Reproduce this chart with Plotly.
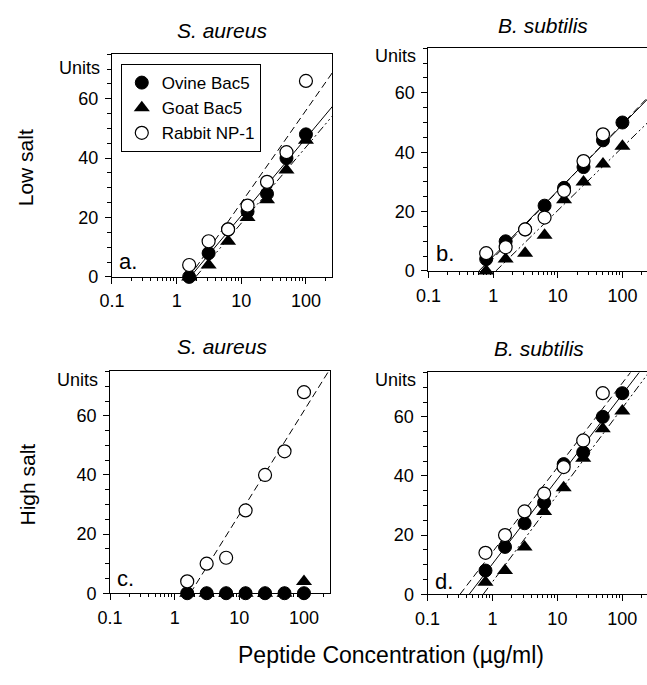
import numpy as np
import plotly.graph_objects as go

# ---------------- data ----------------
conc_7 = [1.5625, 3.125, 6.25, 12.5, 25, 50, 100]
conc_8 = [0.78125, 1.5625, 3.125, 6.25, 12.5, 25, 50, 100]

# panel a: low salt, S. aureus
ovine_a = [0, 8, 16, 22, 28, 40, 48]
goat_a = [0, 4, 12, 20, 26, 36, 46]
rabbit_a = [4, 12, 16, 24, 32, 42, 66]
# panel b: low salt, B. subtilis
ovine_b = [4, 10, 14, 22, 28, 35, 44, 50]
goat_b = [0, 4, 6, 12, 24, 30, 36, 42]
rabbit_b = [6, 8, 14, 18, 27, 37, 46, None]
# panel c: high salt, S. aureus
ovine_c = [0, 0, 0, 0, 0, 0, 0]
goat_c = [0, 0, 0, 0, 0, 0, 4]
rabbit_c = [4, 10, 12, 28, 40, 48, 68]
# panel d: high salt, B. subtilis
ovine_d = [8, 16, 24, 31, 44, 48, 60, 68]
goat_d = [4, 8, 16, 28, 36, 46, 56, 62]
rabbit_d = [14, 20, 28, 34, 43, 52, 68, None]

series_names = ["Ovine Bac5", "Goat Bac5", "Rabbit NP-1"]
column_titles = ["S. aureus", "B. subtilis"]
row_titles = ["Low salt", "High salt"]
panel_letters = ["a.", "b.", "c.", "d."]
x_title = "Peptide Concentration (µg/ml)"
y_unit_label = "Units"
x_tick_vals = [0.1, 1, 10, 100]
x_tick_text = ["0.1", "1", "10", "100"]
y_tick_vals = [0, 20, 40, 60]

panels = [
    dict(x=conc_7, ys=[ovine_a, goat_a, rabbit_a], fit=[True, True, True]),
    dict(x=conc_8, ys=[ovine_b, goat_b, rabbit_b], fit=[True, True, True]),
    dict(x=conc_7, ys=[ovine_c, goat_c, rabbit_c], fit=[False, False, True]),
    dict(x=conc_8, ys=[ovine_d, goat_d, rabbit_d], fit=[True, True, True]),
]

# ---------------- layout geometry ----------------
W, H = 647, 685
FONT = "Liberation Sans, Arial, Helvetica, sans-serif"
# plot-area boxes in pixels: (left, right, top, bottom)
boxes = [(101, 326, 55, 281), (424, 647, 49, 275), (99, 324, 377, 602), (423, 647, 378, 603)]
x_ranges = [[-1, 2.41], [-1, 2.38], [-1, 2.41], [-1, 2.38]]
units_y = [70.5, 72.5, 72, 72.5]
letter_pos = [(117, 265), (441, 257), (115, 587), (440, 590)]

line_styles = ["solid", "8px,3px,2px,3px,2px,3px", "7px,4px"]
marker_styles = [
    dict(symbol="circle", size=13, color="black", line=dict(color="black", width=1)),
    dict(symbol="triangle-up", size=14, color="black", line=dict(color="black", width=0)),
    dict(symbol="circle", size=13, color="white", line=dict(color="black", width=1.2)),
]

fig = go.Figure()

minor_x = []
for dec in [0.1, 1, 10]:
    minor_x += [dec * k for k in range(2, 10)]
minor_x += [200]

for i, p in enumerate(panels):
    xa = "x" if i == 0 else f"x{i+1}"
    ya = "y" if i == 0 else f"y{i+1}"
    xs = np.array(p["x"], dtype=float)
    # regression lines (value vs log10 concentration)
    for s in range(3):
        if not p["fit"][s]:
            continue
        yv = np.array([np.nan if v is None else v for v in p["ys"][s]], dtype=float)
        ok = ~np.isnan(yv)
        m, b = np.polyfit(np.log10(xs[ok]), yv[ok], 1)
        lx0 = -b / m
        lx1 = x_ranges[i][1] + 0.05
        fig.add_trace(go.Scatter(
            x=[10 ** lx0, 10 ** lx1], y=[0, m * lx1 + b], mode="lines",
            line=dict(color="black", width=1, dash=line_styles[s]),
            xaxis=xa, yaxis=ya, showlegend=False, hoverinfo="skip"))
    for s in range(3):
        fig.add_trace(go.Scatter(
            x=p["x"], y=p["ys"][s], mode="markers", name=series_names[s],
            marker=marker_styles[s], cliponaxis=False,
            xaxis=xa, yaxis=ya, showlegend=(i == 0)))

    l, r, t, btm = boxes[i]
    right_frame = r < W
    xkey = "xaxis" if i == 0 else f"xaxis{i+1}"
    ykey = "yaxis" if i == 0 else f"yaxis{i+1}"
    fig.layout[xkey] = dict(
        type="log", range=x_ranges[i], domain=[l / W, r / W], anchor=ya,
        tickvals=x_tick_vals, ticktext=x_tick_text, ticks="outside", ticklen=6,
        tickwidth=1, tickcolor="black", ticklabelstandoff=2,
        minor=dict(tickvals=minor_x, ticks="outside", ticklen=3, tickwidth=1, tickcolor="black"),
        showgrid=False, zeroline=False, showline=True, linecolor="black", linewidth=1,
        mirror=True, tickfont=dict(family=FONT, size=18, color="black"))
    fig.layout[ykey] = dict(
        range=[0, 75], domain=[1 - btm / H, 1 - t / H], anchor=xa,
        tickvals=y_tick_vals, ticks="outside", ticklen=6, tickwidth=1, tickcolor="black",
        ticklabelstandoff=3,
        minor=dict(dtick=5, ticks="outside", ticklen=4, tickwidth=1, tickcolor="black"),
        showgrid=False, zeroline=False, showline=True, linecolor="black", linewidth=1,
        mirror=right_frame, tickfont=dict(family=FONT, size=18, color="black"))

    # "Units" label at top of y axis
    fig.add_annotation(text=y_unit_label, xref=f"{xa} domain", yref=ya, x=0, y=units_y[i],
                       xanchor="right", yanchor="middle", xshift=-10, showarrow=False,
                       font=dict(family=FONT, size=18, color="black"))
    # panel letter
    lx, ly = letter_pos[i]
    fig.add_annotation(text=panel_letters[i], xref="paper", yref="paper", x=lx / W, y=1 - ly / H,
                       xanchor="center", yanchor="middle", showarrow=False,
                       font=dict(family=FONT, size=22, color="black"))

# column titles
for (cx, cy), txt in zip([(213, 31), (541, 26), (213, 352), (537, 354)],
                         column_titles + column_titles):
    fig.add_annotation(text=f"<i>{txt}</i>", xref="paper", yref="paper", x=cx / W, y=1 - cy / H,
                       xanchor="center", yanchor="middle", showarrow=False,
                       font=dict(family=FONT, size=21, color="black"))
# row titles
for (cx, cy), txt in zip([(13, 170), (15, 492)], row_titles):
    fig.add_annotation(text=txt, xref="paper", yref="paper", x=cx / W, y=1 - cy / H,
                       xanchor="center", yanchor="middle", textangle=-90, showarrow=False,
                       font=dict(family=FONT, size=21, color="black"))
# x axis title
fig.add_annotation(text=x_title, xref="paper", yref="paper", x=386 / W, y=1 - 665 / H,
                   xanchor="center", yanchor="middle", showarrow=False,
                   font=dict(family=FONT, size=23, color="black"))

fig.update_layout(
    width=W, height=H, margin=dict(l=0, r=0, t=0, b=0),
    paper_bgcolor="white", plot_bgcolor="white",
    showlegend=True,
    legend=dict(x=110 / W, y=1 - 65 / H, xanchor="left", yanchor="top",
                bgcolor="white", bordercolor="black", borderwidth=1,
                font=dict(family=FONT, size=17, color="black"),
                itemwidth=30, tracegroupgap=0),
)

fig.write_html("out.html", config={"displayModeBar": False},
               post_script="document.body.style.margin='0';document.body.style.overflow='hidden';")
